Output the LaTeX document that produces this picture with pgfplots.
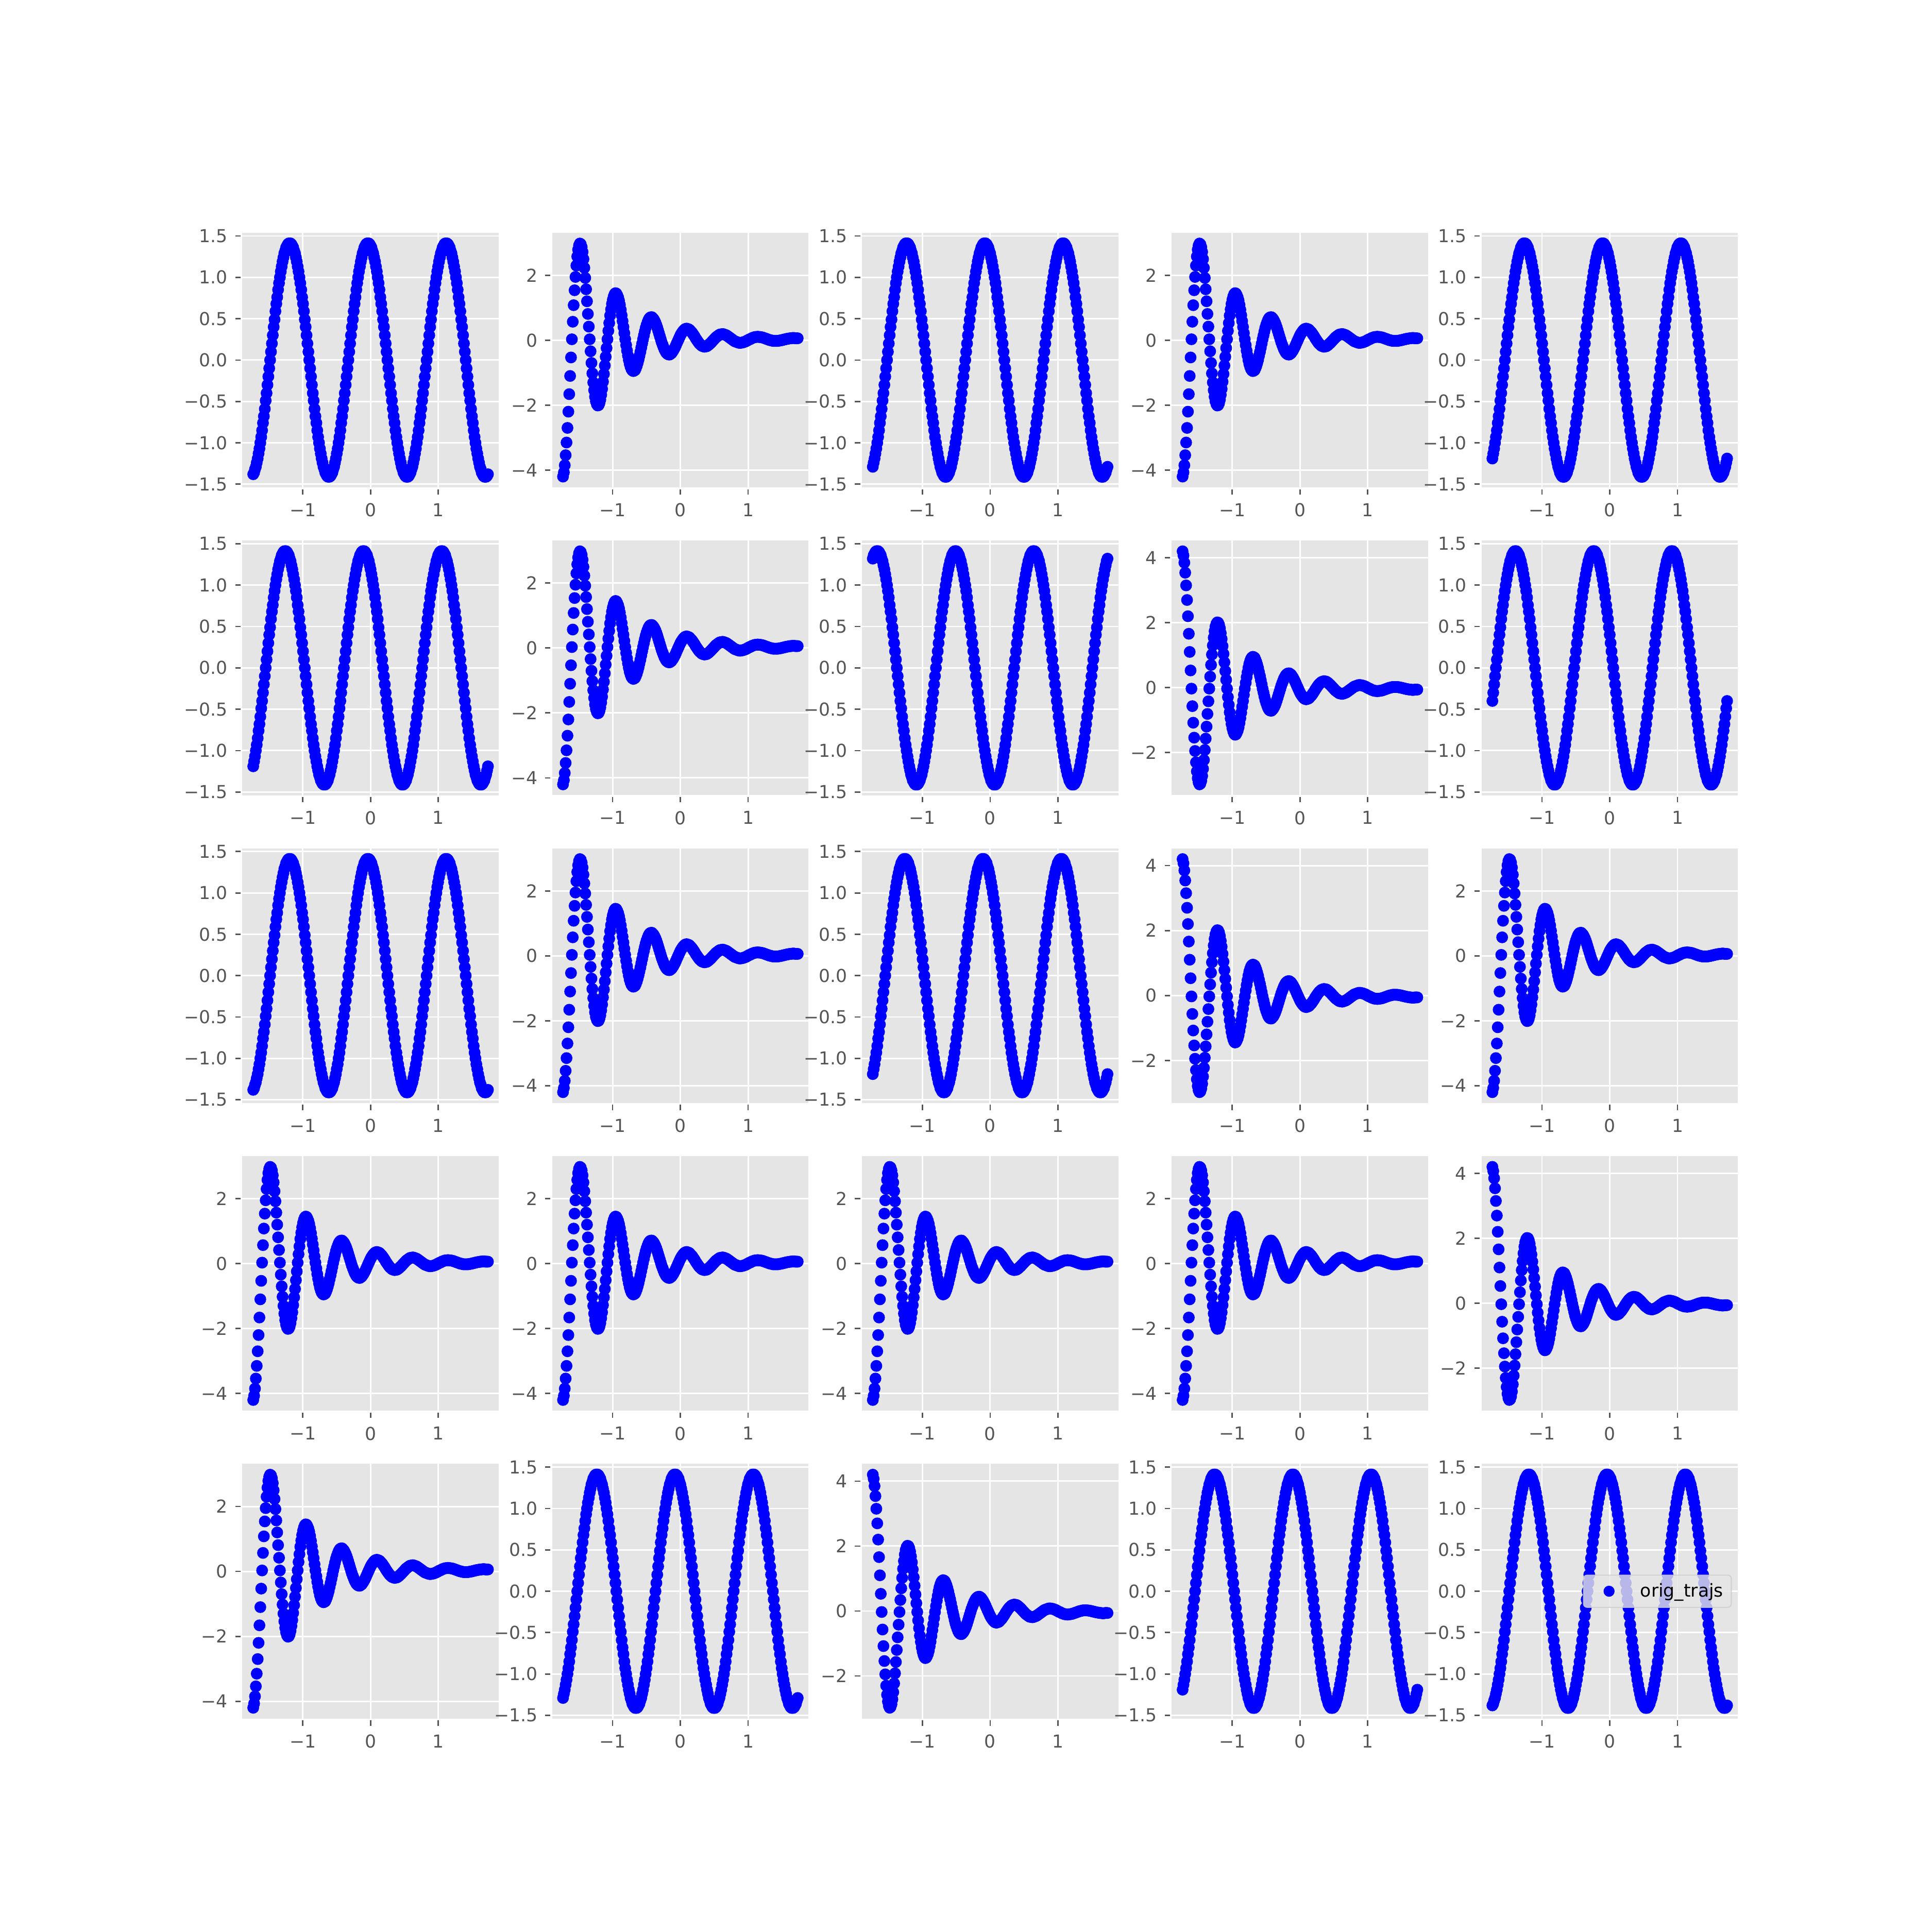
\documentclass[border=0pt]{standalone}
\usepackage{fontspec}
\setmainfont{DejaVu Sans}
\usepackage{pgfplots}
\usepackage{pgfplotstable}
\pgfplotsset{compat=1.18}
\definecolor{ggbg}{HTML}{E5E5E5}
\definecolor{ggtick}{HTML}{555555}
\definecolor{ggframe}{HTML}{CCCCCC}
\pgfplotsset{
  sub/.style={
    scale only axis, width=144.31bp, height=143.38bp, anchor=north west,
    axis background/.style={fill=ggbg},
    axis line style={draw=white, line width=1pt},
    grid=major, grid style={draw=white, line width=0.85pt},
    tick align=outside, tick pos=left, major tick length=3.5pt,
    tick style={draw=ggtick, line width=0.8pt},
    tick label style={font=\fontsize{10}{12}\selectfont, text=ggtick, inner sep=0pt},
    xticklabel style={anchor=north, yshift=-4.8bp},
    yticklabel style={anchor=east, xshift=-4.1bp},
    xmin=-1.905, xmax=1.905,
    xtick={-1,0,1}, xticklabels={−1,0,1},
  },
  sinax/.style={ymin=-1.55, ymax=1.55, ytick={-1.5,-1,-0.5,0,0.5,1,1.5},
    yticklabels={−1.5,−1.0,−0.5,0.0,0.5,1.0,1.5}},
  dampa/.style={ymin=-4.56, ymax=3.34, ytick={-4,-2,0,2}, yticklabels={−4,−2,0,2}},
  dampb/.style={ymin=-3.34, ymax=4.56, ytick={-2,0,2,4}, yticklabels={−2,0,2,4}},
  dots/.style={only marks, mark=*, mark size=3.1pt, color=blue, mark options={draw=none, fill=blue}},
}
\newcommand{\panel}[4]{%
  \begin{axis}[sub,#3,at={(#1bp,#2bp)}]
    \addplot[dots] table[x=x,y=#4]{\data};
  \end{axis}}
\begin{document}
\pgfplotstableread{
x sa sb sc sd se da db
-1.732 -1.38 -1.29 -1.19 1.32 -0.40 -4.20 4.20
-1.719 -1.36 -1.24 -1.13 1.36 -0.30 -4.07 4.07
-1.706 -1.32 -1.19 -1.07 1.38 -0.20 -3.85 3.85
-1.693 -1.29 -1.13 -1.00 1.40 -0.10 -3.54 3.54
-1.680 -1.24 -1.07 -0.93 1.41 0.00 -3.15 3.15
-1.666 -1.19 -1.00 -0.85 1.41 0.10 -2.70 2.70
-1.653 -1.13 -0.93 -0.76 1.41 0.20 -2.20 2.20
-1.640 -1.07 -0.85 -0.68 1.40 0.30 -1.66 1.66
-1.627 -1.00 -0.76 -0.59 1.38 0.40 -1.10 1.10
-1.614 -0.93 -0.68 -0.49 1.36 0.49 -0.53 0.53
-1.601 -0.85 -0.59 -0.40 1.32 0.59 0.03 -0.03
-1.588 -0.76 -0.49 -0.30 1.29 0.68 0.57 -0.57
-1.575 -0.68 -0.40 -0.20 1.24 0.76 1.08 -1.08
-1.561 -0.59 -0.30 -0.10 1.19 0.85 1.54 -1.54
-1.548 -0.49 -0.20 0.00 1.13 0.93 1.95 -1.95
-1.535 -0.40 -0.10 0.10 1.07 1.00 2.30 -2.30
-1.522 -0.30 0.00 0.20 1.00 1.07 2.58 -2.58
-1.509 -0.20 0.10 0.30 0.93 1.13 2.79 -2.79
-1.496 -0.10 0.20 0.40 0.85 1.19 2.92 -2.92
-1.483 0.00 0.30 0.49 0.76 1.24 2.98 -2.98
-1.470 0.10 0.40 0.59 0.68 1.29 2.96 -2.96
-1.456 0.20 0.49 0.68 0.59 1.32 2.87 -2.87
-1.443 0.30 0.59 0.76 0.49 1.36 2.72 -2.72
-1.430 0.40 0.68 0.85 0.40 1.38 2.50 -2.50
-1.417 0.49 0.76 0.93 0.30 1.40 2.23 -2.23
-1.404 0.59 0.85 1.00 0.20 1.41 1.92 -1.92
-1.391 0.68 0.93 1.07 0.10 1.41 1.57 -1.57
-1.378 0.76 1.00 1.13 0.00 1.41 1.20 -1.20
-1.365 0.85 1.07 1.19 -0.10 1.40 0.81 -0.81
-1.351 0.93 1.13 1.24 -0.20 1.38 0.42 -0.42
-1.338 1.00 1.19 1.29 -0.30 1.36 0.03 -0.03
-1.325 1.07 1.24 1.32 -0.40 1.32 -0.34 0.34
-1.312 1.13 1.29 1.36 -0.49 1.29 -0.70 0.70
-1.299 1.19 1.32 1.38 -0.59 1.24 -1.02 1.02
-1.286 1.24 1.36 1.40 -0.68 1.19 -1.30 1.30
-1.273 1.29 1.38 1.41 -0.76 1.13 -1.54 1.54
-1.260 1.32 1.40 1.41 -0.85 1.07 -1.74 1.74
-1.247 1.36 1.41 1.41 -0.93 1.00 -1.88 1.88
-1.233 1.38 1.41 1.40 -1.00 0.93 -1.97 1.97
-1.220 1.40 1.41 1.38 -1.07 0.85 -2.01 2.01
-1.207 1.41 1.40 1.36 -1.13 0.76 -2.00 2.00
-1.194 1.41 1.38 1.32 -1.19 0.68 -1.94 1.94
-1.181 1.41 1.36 1.29 -1.24 0.59 -1.83 1.83
-1.168 1.40 1.32 1.24 -1.29 0.49 -1.68 1.68
-1.155 1.38 1.29 1.19 -1.32 0.40 -1.50 1.50
-1.142 1.36 1.24 1.13 -1.36 0.30 -1.28 1.28
-1.128 1.32 1.19 1.07 -1.38 0.20 -1.04 1.04
-1.115 1.29 1.13 1.00 -1.40 0.10 -0.78 0.78
-1.102 1.24 1.07 0.93 -1.41 0.00 -0.51 0.51
-1.089 1.19 1.00 0.85 -1.41 -0.10 -0.24 0.24
-1.076 1.13 0.93 0.76 -1.41 -0.20 0.03 -0.03
-1.063 1.07 0.85 0.68 -1.40 -0.30 0.29 -0.29
-1.050 1.00 0.76 0.59 -1.38 -0.40 0.53 -0.53
-1.037 0.93 0.68 0.49 -1.36 -0.49 0.76 -0.76
-1.023 0.85 0.59 0.40 -1.32 -0.59 0.95 -0.95
-1.010 0.76 0.49 0.30 -1.29 -0.68 1.12 -1.12
-0.997 0.68 0.40 0.20 -1.24 -0.76 1.25 -1.25
-0.984 0.59 0.30 0.10 -1.19 -0.85 1.35 -1.35
-0.971 0.49 0.20 0.00 -1.13 -0.93 1.42 -1.42
-0.958 0.40 0.10 -0.10 -1.07 -1.00 1.45 -1.45
-0.945 0.30 0.00 -0.20 -1.00 -1.07 1.44 -1.44
-0.932 0.20 -0.10 -0.30 -0.93 -1.13 1.39 -1.39
-0.918 0.10 -0.20 -0.40 -0.85 -1.19 1.32 -1.32
-0.905 0.00 -0.30 -0.49 -0.76 -1.24 1.22 -1.22
-0.892 -0.10 -0.40 -0.59 -0.68 -1.29 1.09 -1.09
-0.879 -0.20 -0.49 -0.68 -0.59 -1.32 0.94 -0.94
-0.866 -0.30 -0.59 -0.76 -0.49 -1.36 0.77 -0.77
-0.853 -0.40 -0.68 -0.85 -0.40 -1.38 0.59 -0.59
-0.840 -0.49 -0.76 -0.93 -0.30 -1.40 0.41 -0.41
-0.827 -0.59 -0.85 -1.00 -0.20 -1.41 0.22 -0.22
-0.814 -0.68 -0.93 -1.07 -0.10 -1.41 0.03 -0.03
-0.800 -0.76 -1.00 -1.13 0.00 -1.41 -0.15 0.15
-0.787 -0.85 -1.07 -1.19 0.10 -1.40 -0.32 0.32
-0.774 -0.93 -1.13 -1.24 0.20 -1.38 -0.47 0.47
-0.761 -1.00 -1.19 -1.29 0.30 -1.36 -0.61 0.61
-0.748 -1.07 -1.24 -1.32 0.40 -1.32 -0.73 0.73
-0.735 -1.13 -1.29 -1.36 0.49 -1.29 -0.82 0.82
-0.722 -1.19 -1.32 -1.38 0.59 -1.24 -0.89 0.89
-0.709 -1.24 -1.36 -1.40 0.68 -1.19 -0.93 0.93
-0.695 -1.29 -1.38 -1.41 0.76 -1.13 -0.95 0.95
-0.682 -1.32 -1.40 -1.41 0.85 -1.07 -0.94 0.94
-0.669 -1.36 -1.41 -1.41 0.93 -1.00 -0.92 0.92
-0.656 -1.38 -1.41 -1.40 1.00 -0.93 -0.86 0.86
-0.643 -1.40 -1.41 -1.38 1.07 -0.85 -0.79 0.79
-0.630 -1.41 -1.40 -1.36 1.13 -0.76 -0.70 0.70
-0.617 -1.41 -1.38 -1.32 1.19 -0.68 -0.60 0.60
-0.604 -1.41 -1.36 -1.29 1.24 -0.59 -0.48 0.48
-0.590 -1.40 -1.32 -1.24 1.29 -0.49 -0.36 0.36
-0.577 -1.38 -1.29 -1.19 1.32 -0.40 -0.23 0.23
-0.564 -1.36 -1.24 -1.13 1.36 -0.30 -0.10 0.10
-0.551 -1.32 -1.19 -1.07 1.38 -0.20 0.03 -0.03
-0.538 -1.29 -1.13 -1.00 1.40 -0.10 0.15 -0.15
-0.525 -1.24 -1.07 -0.93 1.41 0.00 0.27 -0.27
-0.512 -1.19 -1.00 -0.85 1.41 0.10 0.38 -0.38
-0.499 -1.13 -0.93 -0.76 1.41 0.20 0.47 -0.47
-0.485 -1.07 -0.85 -0.68 1.40 0.30 0.55 -0.55
-0.472 -1.00 -0.76 -0.59 1.38 0.40 0.62 -0.62
-0.459 -0.93 -0.68 -0.49 1.36 0.49 0.67 -0.67
-0.446 -0.85 -0.59 -0.40 1.32 0.59 0.70 -0.70
-0.433 -0.76 -0.49 -0.30 1.29 0.68 0.71 -0.71
-0.420 -0.68 -0.40 -0.20 1.24 0.76 0.71 -0.71
-0.407 -0.59 -0.30 -0.10 1.19 0.85 0.68 -0.68
-0.394 -0.49 -0.20 0.00 1.13 0.93 0.65 -0.65
-0.381 -0.40 -0.10 0.10 1.07 1.00 0.60 -0.60
-0.367 -0.30 0.00 0.20 1.00 1.07 0.54 -0.54
-0.354 -0.20 0.10 0.30 0.93 1.13 0.47 -0.47
-0.341 -0.10 0.20 0.40 0.85 1.19 0.39 -0.39
-0.328 0.00 0.30 0.49 0.76 1.24 0.30 -0.30
-0.315 0.10 0.40 0.59 0.68 1.29 0.21 -0.21
-0.302 0.20 0.49 0.68 0.59 1.32 0.12 -0.12
-0.289 0.30 0.59 0.76 0.49 1.36 0.03 -0.03
-0.276 0.40 0.68 0.85 0.40 1.38 -0.06 0.06
-0.262 0.49 0.76 0.93 0.30 1.40 -0.14 0.14
-0.249 0.59 0.85 1.00 0.20 1.41 -0.21 0.21
-0.236 0.68 0.93 1.07 0.10 1.41 -0.28 0.28
-0.223 0.76 1.00 1.13 0.00 1.41 -0.33 0.33
-0.210 0.85 1.07 1.19 -0.10 1.40 -0.38 0.38
-0.197 0.93 1.13 1.24 -0.20 1.38 -0.41 0.41
-0.184 1.00 1.19 1.29 -0.30 1.36 -0.43 0.43
-0.171 1.07 1.24 1.32 -0.40 1.32 -0.44 0.44
-0.157 1.13 1.29 1.36 -0.49 1.29 -0.44 0.44
-0.144 1.19 1.32 1.38 -0.59 1.24 -0.42 0.42
-0.131 1.24 1.36 1.40 -0.68 1.19 -0.40 0.40
-0.118 1.29 1.38 1.41 -0.76 1.13 -0.36 0.36
-0.105 1.32 1.40 1.41 -0.85 1.07 -0.32 0.32
-0.092 1.36 1.41 1.41 -0.93 1.00 -0.27 0.27
-0.079 1.38 1.41 1.40 -1.00 0.93 -0.22 0.22
-0.066 1.40 1.41 1.38 -1.07 0.85 -0.16 0.16
-0.052 1.41 1.40 1.36 -1.13 0.76 -0.09 0.09
-0.039 1.41 1.38 1.32 -1.19 0.68 -0.03 0.03
-0.026 1.41 1.36 1.29 -1.24 0.59 0.03 -0.03
-0.013 1.40 1.32 1.24 -1.29 0.49 0.09 -0.09
0.000 1.38 1.29 1.19 -1.32 0.40 0.15 -0.15
0.013 1.36 1.24 1.13 -1.36 0.30 0.20 -0.20
0.026 1.32 1.19 1.07 -1.38 0.20 0.24 -0.24
0.039 1.29 1.13 1.00 -1.40 0.10 0.28 -0.28
0.052 1.24 1.07 0.93 -1.41 0.00 0.31 -0.31
0.066 1.19 1.00 0.85 -1.41 -0.10 0.34 -0.34
0.079 1.13 0.93 0.76 -1.41 -0.20 0.35 -0.35
0.092 1.07 0.85 0.68 -1.40 -0.30 0.36 -0.36
0.105 1.00 0.76 0.59 -1.38 -0.40 0.35 -0.35
0.118 0.93 0.68 0.49 -1.36 -0.49 0.34 -0.34
0.131 0.85 0.59 0.40 -1.32 -0.59 0.33 -0.33
0.144 0.76 0.49 0.30 -1.29 -0.68 0.30 -0.30
0.157 0.68 0.40 0.20 -1.24 -0.76 0.27 -0.27
0.171 0.59 0.30 0.10 -1.19 -0.85 0.24 -0.24
0.184 0.49 0.20 0.00 -1.13 -0.93 0.20 -0.20
0.197 0.40 0.10 -0.10 -1.07 -1.00 0.16 -0.16
0.210 0.30 0.00 -0.20 -1.00 -1.07 0.12 -0.12
0.223 0.20 -0.10 -0.30 -0.93 -1.13 0.07 -0.07
0.236 0.10 -0.20 -0.40 -0.85 -1.19 0.03 -0.03
0.249 0.00 -0.30 -0.49 -0.76 -1.24 -0.01 0.01
0.262 -0.10 -0.40 -0.59 -0.68 -1.29 -0.05 0.05
0.276 -0.20 -0.49 -0.68 -0.59 -1.32 -0.09 0.09
0.289 -0.30 -0.59 -0.76 -0.49 -1.36 -0.12 0.12
0.302 -0.40 -0.68 -0.85 -0.40 -1.38 -0.14 0.14
0.315 -0.49 -0.76 -0.93 -0.30 -1.40 -0.17 0.17
0.328 -0.59 -0.85 -1.00 -0.20 -1.41 -0.18 0.18
0.341 -0.68 -0.93 -1.07 -0.10 -1.41 -0.19 0.19
0.354 -0.76 -1.00 -1.13 0.00 -1.41 -0.20 0.20
0.367 -0.85 -1.07 -1.19 0.10 -1.40 -0.19 0.19
0.381 -0.93 -1.13 -1.24 0.20 -1.38 -0.19 0.19
0.394 -1.00 -1.19 -1.29 0.30 -1.36 -0.18 0.18
0.407 -1.07 -1.24 -1.32 0.40 -1.32 -0.16 0.16
0.420 -1.13 -1.29 -1.36 0.49 -1.29 -0.14 0.14
0.433 -1.19 -1.32 -1.38 0.59 -1.24 -0.11 0.11
0.446 -1.24 -1.36 -1.40 0.68 -1.19 -0.09 0.09
0.459 -1.29 -1.38 -1.41 0.76 -1.13 -0.06 0.06
0.472 -1.32 -1.40 -1.41 0.85 -1.07 -0.03 0.03
0.485 -1.36 -1.41 -1.41 0.93 -1.00 0.00 0.00
0.499 -1.38 -1.41 -1.40 1.00 -0.93 0.03 -0.03
0.512 -1.40 -1.41 -1.38 1.07 -0.85 0.06 -0.06
0.525 -1.41 -1.40 -1.36 1.13 -0.76 0.09 -0.09
0.538 -1.41 -1.38 -1.32 1.19 -0.68 0.11 -0.11
0.551 -1.41 -1.36 -1.29 1.24 -0.59 0.13 -0.13
0.564 -1.40 -1.32 -1.24 1.29 -0.49 0.15 -0.15
0.577 -1.38 -1.29 -1.19 1.32 -0.40 0.17 -0.17
0.590 -1.36 -1.24 -1.13 1.36 -0.30 0.18 -0.18
0.604 -1.32 -1.19 -1.07 1.38 -0.20 0.18 -0.18
0.617 -1.29 -1.13 -1.00 1.40 -0.10 0.19 -0.19
0.630 -1.24 -1.07 -0.93 1.41 0.00 0.19 -0.19
0.643 -1.19 -1.00 -0.85 1.41 0.10 0.18 -0.18
0.656 -1.13 -0.93 -0.76 1.41 0.20 0.17 -0.17
0.669 -1.07 -0.85 -0.68 1.40 0.30 0.16 -0.16
0.682 -1.00 -0.76 -0.59 1.38 0.40 0.15 -0.15
0.695 -0.93 -0.68 -0.49 1.36 0.49 0.13 -0.13
0.709 -0.85 -0.59 -0.40 1.32 0.59 0.11 -0.11
0.722 -0.76 -0.49 -0.30 1.29 0.68 0.09 -0.09
0.735 -0.68 -0.40 -0.20 1.24 0.76 0.07 -0.07
0.748 -0.59 -0.30 -0.10 1.19 0.85 0.05 -0.05
0.761 -0.49 -0.20 0.00 1.13 0.93 0.03 -0.03
0.774 -0.40 -0.10 0.10 1.07 1.00 0.01 -0.01
0.787 -0.30 0.00 0.20 1.00 1.07 -0.01 0.01
0.800 -0.20 0.10 0.30 0.93 1.13 -0.03 0.03
0.814 -0.10 0.20 0.40 0.85 1.19 -0.04 0.04
0.827 0.00 0.30 0.49 0.76 1.24 -0.05 0.05
0.840 0.10 0.40 0.59 0.68 1.29 -0.06 0.06
0.853 0.20 0.49 0.68 0.59 1.32 -0.07 0.07
0.866 0.30 0.59 0.76 0.49 1.36 -0.08 0.08
0.879 0.40 0.68 0.85 0.40 1.38 -0.08 0.08
0.892 0.49 0.76 0.93 0.30 1.40 -0.08 0.08
0.905 0.59 0.85 1.00 0.20 1.41 -0.07 0.07
0.918 0.68 0.93 1.07 0.10 1.41 -0.07 0.07
0.932 0.76 1.00 1.13 0.00 1.41 -0.06 0.06
0.945 0.85 1.07 1.19 -0.10 1.40 -0.05 0.05
0.958 0.93 1.13 1.24 -0.20 1.38 -0.04 0.04
0.971 1.00 1.19 1.29 -0.30 1.36 -0.03 0.03
0.984 1.07 1.24 1.32 -0.40 1.32 -0.01 0.01
0.997 1.13 1.29 1.36 -0.49 1.29 0.00 0.00
1.010 1.19 1.32 1.38 -0.59 1.24 0.02 -0.02
1.023 1.24 1.36 1.40 -0.68 1.19 0.03 -0.03
1.037 1.29 1.38 1.41 -0.76 1.13 0.04 -0.04
1.050 1.32 1.40 1.41 -0.85 1.07 0.06 -0.06
1.063 1.36 1.41 1.41 -0.93 1.00 0.07 -0.07
1.076 1.38 1.41 1.40 -1.00 0.93 0.08 -0.08
1.089 1.40 1.41 1.38 -1.07 0.85 0.09 -0.09
1.102 1.41 1.40 1.36 -1.13 0.76 0.10 -0.10
1.115 1.41 1.38 1.32 -1.19 0.68 0.10 -0.10
1.128 1.41 1.36 1.29 -1.24 0.59 0.10 -0.10
1.142 1.40 1.32 1.24 -1.29 0.49 0.11 -0.11
1.155 1.38 1.29 1.19 -1.32 0.40 0.10 -0.10
1.168 1.36 1.24 1.13 -1.36 0.30 0.10 -0.10
1.181 1.32 1.19 1.07 -1.38 0.20 0.10 -0.10
1.194 1.29 1.13 1.00 -1.40 0.10 0.09 -0.09
1.207 1.24 1.07 0.93 -1.41 0.00 0.09 -0.09
1.220 1.19 1.00 0.85 -1.41 -0.10 0.08 -0.08
1.233 1.13 0.93 0.76 -1.41 -0.20 0.07 -0.07
1.247 1.07 0.85 0.68 -1.40 -0.30 0.06 -0.06
1.260 1.00 0.76 0.59 -1.38 -0.40 0.05 -0.05
1.273 0.93 0.68 0.49 -1.36 -0.49 0.04 -0.04
1.286 0.85 0.59 0.40 -1.32 -0.59 0.03 -0.03
1.299 0.76 0.49 0.30 -1.29 -0.68 0.02 -0.02
1.312 0.68 0.40 0.20 -1.24 -0.76 0.01 -0.01
1.325 0.59 0.30 0.10 -1.19 -0.85 0.00 0.00
1.338 0.49 0.20 0.00 -1.13 -0.93 0.00 0.00
1.351 0.40 0.10 -0.10 -1.07 -1.00 -0.01 0.01
1.365 0.30 0.00 -0.20 -1.00 -1.07 -0.02 0.02
1.378 0.20 -0.10 -0.30 -0.93 -1.13 -0.02 0.02
1.391 0.10 -0.20 -0.40 -0.85 -1.19 -0.02 0.02
1.404 0.00 -0.30 -0.49 -0.76 -1.24 -0.02 0.02
1.417 -0.10 -0.40 -0.59 -0.68 -1.29 -0.02 0.02
1.430 -0.20 -0.49 -0.68 -0.59 -1.32 -0.02 0.02
1.443 -0.30 -0.59 -0.76 -0.49 -1.36 -0.02 0.02
1.456 -0.40 -0.68 -0.85 -0.40 -1.38 -0.01 0.01
1.470 -0.49 -0.76 -0.93 -0.30 -1.40 -0.01 0.01
1.483 -0.59 -0.85 -1.00 -0.20 -1.41 0.00 0.00
1.496 -0.68 -0.93 -1.07 -0.10 -1.41 0.00 0.00
1.509 -0.76 -1.00 -1.13 0.00 -1.41 0.01 -0.01
1.522 -0.85 -1.07 -1.19 0.10 -1.40 0.02 -0.02
1.535 -0.93 -1.13 -1.24 0.20 -1.38 0.02 -0.02
1.548 -1.00 -1.19 -1.29 0.30 -1.36 0.03 -0.03
1.561 -1.07 -1.24 -1.32 0.40 -1.32 0.04 -0.04
1.575 -1.13 -1.29 -1.36 0.49 -1.29 0.04 -0.04
1.588 -1.19 -1.32 -1.38 0.59 -1.24 0.05 -0.05
1.601 -1.24 -1.36 -1.40 0.68 -1.19 0.05 -0.05
1.614 -1.29 -1.38 -1.41 0.76 -1.13 0.06 -0.06
1.627 -1.32 -1.40 -1.41 0.85 -1.07 0.06 -0.06
1.640 -1.36 -1.41 -1.41 0.93 -1.00 0.06 -0.06
1.653 -1.38 -1.41 -1.40 1.00 -0.93 0.07 -0.07
1.666 -1.40 -1.41 -1.38 1.07 -0.85 0.07 -0.07
1.680 -1.41 -1.40 -1.36 1.13 -0.76 0.07 -0.07
1.693 -1.41 -1.38 -1.32 1.19 -0.68 0.06 -0.06
1.706 -1.41 -1.36 -1.29 1.24 -0.59 0.06 -0.06
1.719 -1.40 -1.32 -1.24 1.29 -0.49 0.06 -0.06
1.732 -1.38 -1.29 -1.19 1.32 -0.40 0.06 -0.06
}\data
\begin{tikzpicture}
\path[use as bounding box, fill=white] (0,0) rectangle (1080bp,1080bp);
% row 1
\panel{135}{950.4}{sinax}{sa}
\panel{308.172}{950.4}{dampa}{da}
\panel{481.345}{950.4}{sinax}{sb}
\panel{654.517}{950.4}{dampa}{da}
\panel{827.690}{950.4}{sinax}{sc}
% row 2
\panel{135}{778.345}{sinax}{sc}
\panel{308.172}{778.345}{dampa}{da}
\panel{481.345}{778.345}{sinax}{sd}
\panel{654.517}{778.345}{dampb}{db}
\panel{827.690}{778.345}{sinax}{se}
% row 3
\panel{135}{606.29}{sinax}{sa}
\panel{308.172}{606.29}{dampa}{da}
\panel{481.345}{606.29}{sinax}{sc}
\panel{654.517}{606.29}{dampb}{db}
\panel{827.690}{606.29}{dampa}{da}
% row 4
\panel{135}{434.234}{dampa}{da}
\panel{308.172}{434.234}{dampa}{da}
\panel{481.345}{434.234}{dampa}{da}
\panel{654.517}{434.234}{dampa}{da}
\panel{827.690}{434.234}{dampb}{db}
% row 5
\panel{135}{262.179}{dampa}{da}
\panel{308.172}{262.179}{sinax}{sb}
\panel{481.345}{262.179}{dampb}{db}
\panel{654.517}{262.179}{sinax}{sc}
\begin{axis}[sub, sinax, at={(827.690bp,262.179bp)},
  legend style={at={(axis description cs:1,0.5)}, anchor=east, xshift=-3.9bp,
    draw=ggframe, draw opacity=0.8, fill=ggbg, fill opacity=0.8, text opacity=1,
    rounded corners=2bp, line width=0.6pt, inner xsep=0pt, inner ysep=0pt,
    column sep=0pt,
    nodes={inner sep=0pt, text depth=0.15em, font=\fontsize{10}{12}\selectfont, text=black, text opacity=1},
    cells={anchor=center}},
  legend image code/.code={%
    \path[draw=none, fill=none] (-14.3bp,-9bp) rectangle (17.5bp,9bp);
    \fill[blue, draw=none, fill opacity=1] (0bp,0bp) circle (3.1pt);}
  ]
  \addplot[dots] table[x=x,y=sa]{\data};
  \addlegendentry{orig\_trajs\kern4.5bp}
\end{axis}
\end{tikzpicture}
\end{document}
